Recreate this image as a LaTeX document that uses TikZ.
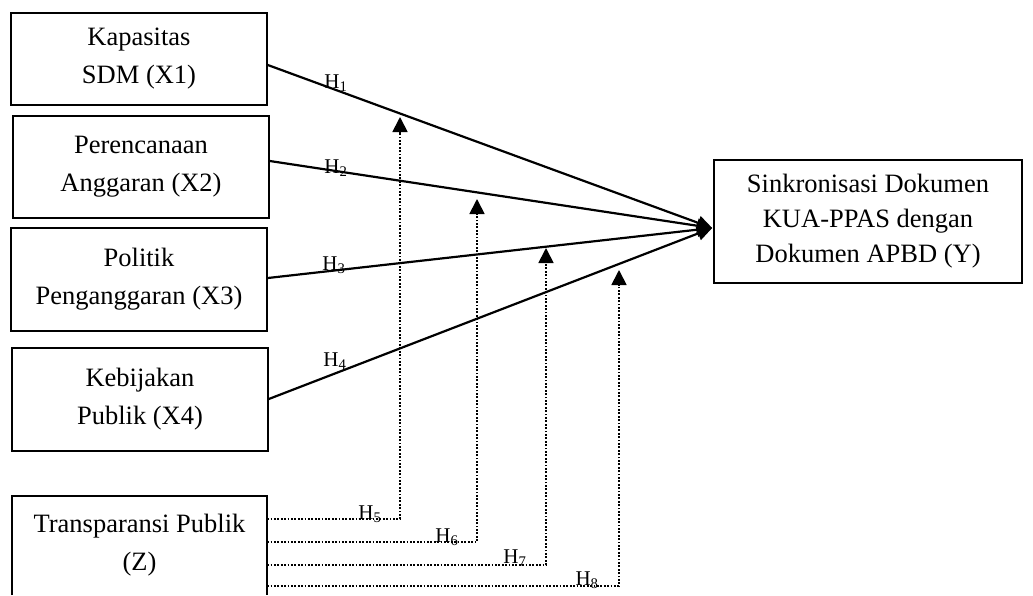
\documentclass[tikz,border=0pt]{standalone}
\usepackage{fontspec}
\setmainfont{Liberation Serif}
\usetikzlibrary{arrows.meta,calc}
\begin{document}
\begin{tikzpicture}[x=1pt,y=-1pt,
  box/.style={draw,line width=1.6pt,inner sep=0pt,align=center,font=\fontsize{26.5}{38}\selectfont},
  openbox/.style={inner sep=0pt,align=center,font=\fontsize{26.5}{38}\selectfont},
  mainpath/.style={line width=2.2pt,-{Triangle[length=15pt,width=14pt]}},
  dotpath/.style={line width=1.8pt,dash pattern=on 1.8pt off 1.6pt,-{Triangle[length=15pt,width=15pt]}},
  hlab/.style={anchor=base,font=\fontsize{21}{24}\selectfont,inner sep=0pt}]
\useasboundingbox (0,0) rectangle (1033,595);
% boxes
\node[box,minimum width=256,minimum height=92] (X1) at (139,59) {Kapasitas\\SDM (X1)};
\node[box,minimum width=256,minimum height=102] (X2) at (141,167) {Perencanaan\\Anggaran (X2)};
\node[box,minimum width=256,minimum height=103] (X3) at (139,279.5) {Politik\\Penganggaran (X3)};
\node[box,minimum width=256,minimum height=103] (X4) at (140,399.5) {Kebijakan\\Publik (X4)};
\node[openbox,minimum width=255,minimum height=99] (Z) at (139.5,545.5) {Transparansi Publik\\(Z)};
\draw[line width=1.6pt] (Z.south west) -- (Z.north west) -- (Z.north east) -- (Z.south east);
\node[box,minimum width=308,minimum height=123,font=\fontsize{26.5}{35}\selectfont] (Y) at (868,221.5) {Sinkronisasi Dokumen\\KUA-PPAS dengan\\Dokumen APBD (Y)};
% main paths
\coordinate (tip) at ($(Y.west)+(-1,6.5)$);
\draw[mainpath] ($(X1.east)+(0,6)$) -- (tip);
\draw[mainpath] ($(X2.east)+(0,-6)$) -- (tip);
\draw[mainpath] ($(X3.east)+(0,-1.5)$) -- (tip);
\draw[mainpath] ($(X4.east)+(0,-0.5)$) -- (tip);
% moderating paths
\coordinate (c5) at (400,519);   \coordinate (t5) at (400,117);
\coordinate (c6) at (477,542);   \coordinate (t6) at (477,199);
\coordinate (c7) at (546,565);   \coordinate (t7) at (546,248);
\coordinate (c8) at (619,586);   \coordinate (t8) at (619,270);
\draw[dotpath] (Z.east |- c5) -- (c5) -- (t5);
\draw[dotpath] (Z.east |- c6) -- (c6) -- (t6);
\draw[dotpath] (Z.east |- c7) -- (c7) -- (t7);
\draw[dotpath] (Z.east |- c8) -- (c8) -- (t8);
% labels
\node[hlab] (h1) at (336,88) {H\textsubscript{1}};
\node[hlab] (h2) at (336,173) {H\textsubscript{2}};
\node[hlab] (h3) at (334,270) {H\textsubscript{3}};
\node[hlab] (h4) at (335,366) {H\textsubscript{4}};
\node[hlab] (h5) at (370,519) {H\textsubscript{5}};
\node[hlab] (h6) at (447,542) {H\textsubscript{6}};
\node[hlab] (h7) at (515,563) {H\textsubscript{7}};
\node[hlab] (h8) at (587,585) {H\textsubscript{8}};
\end{tikzpicture}
\end{document}
